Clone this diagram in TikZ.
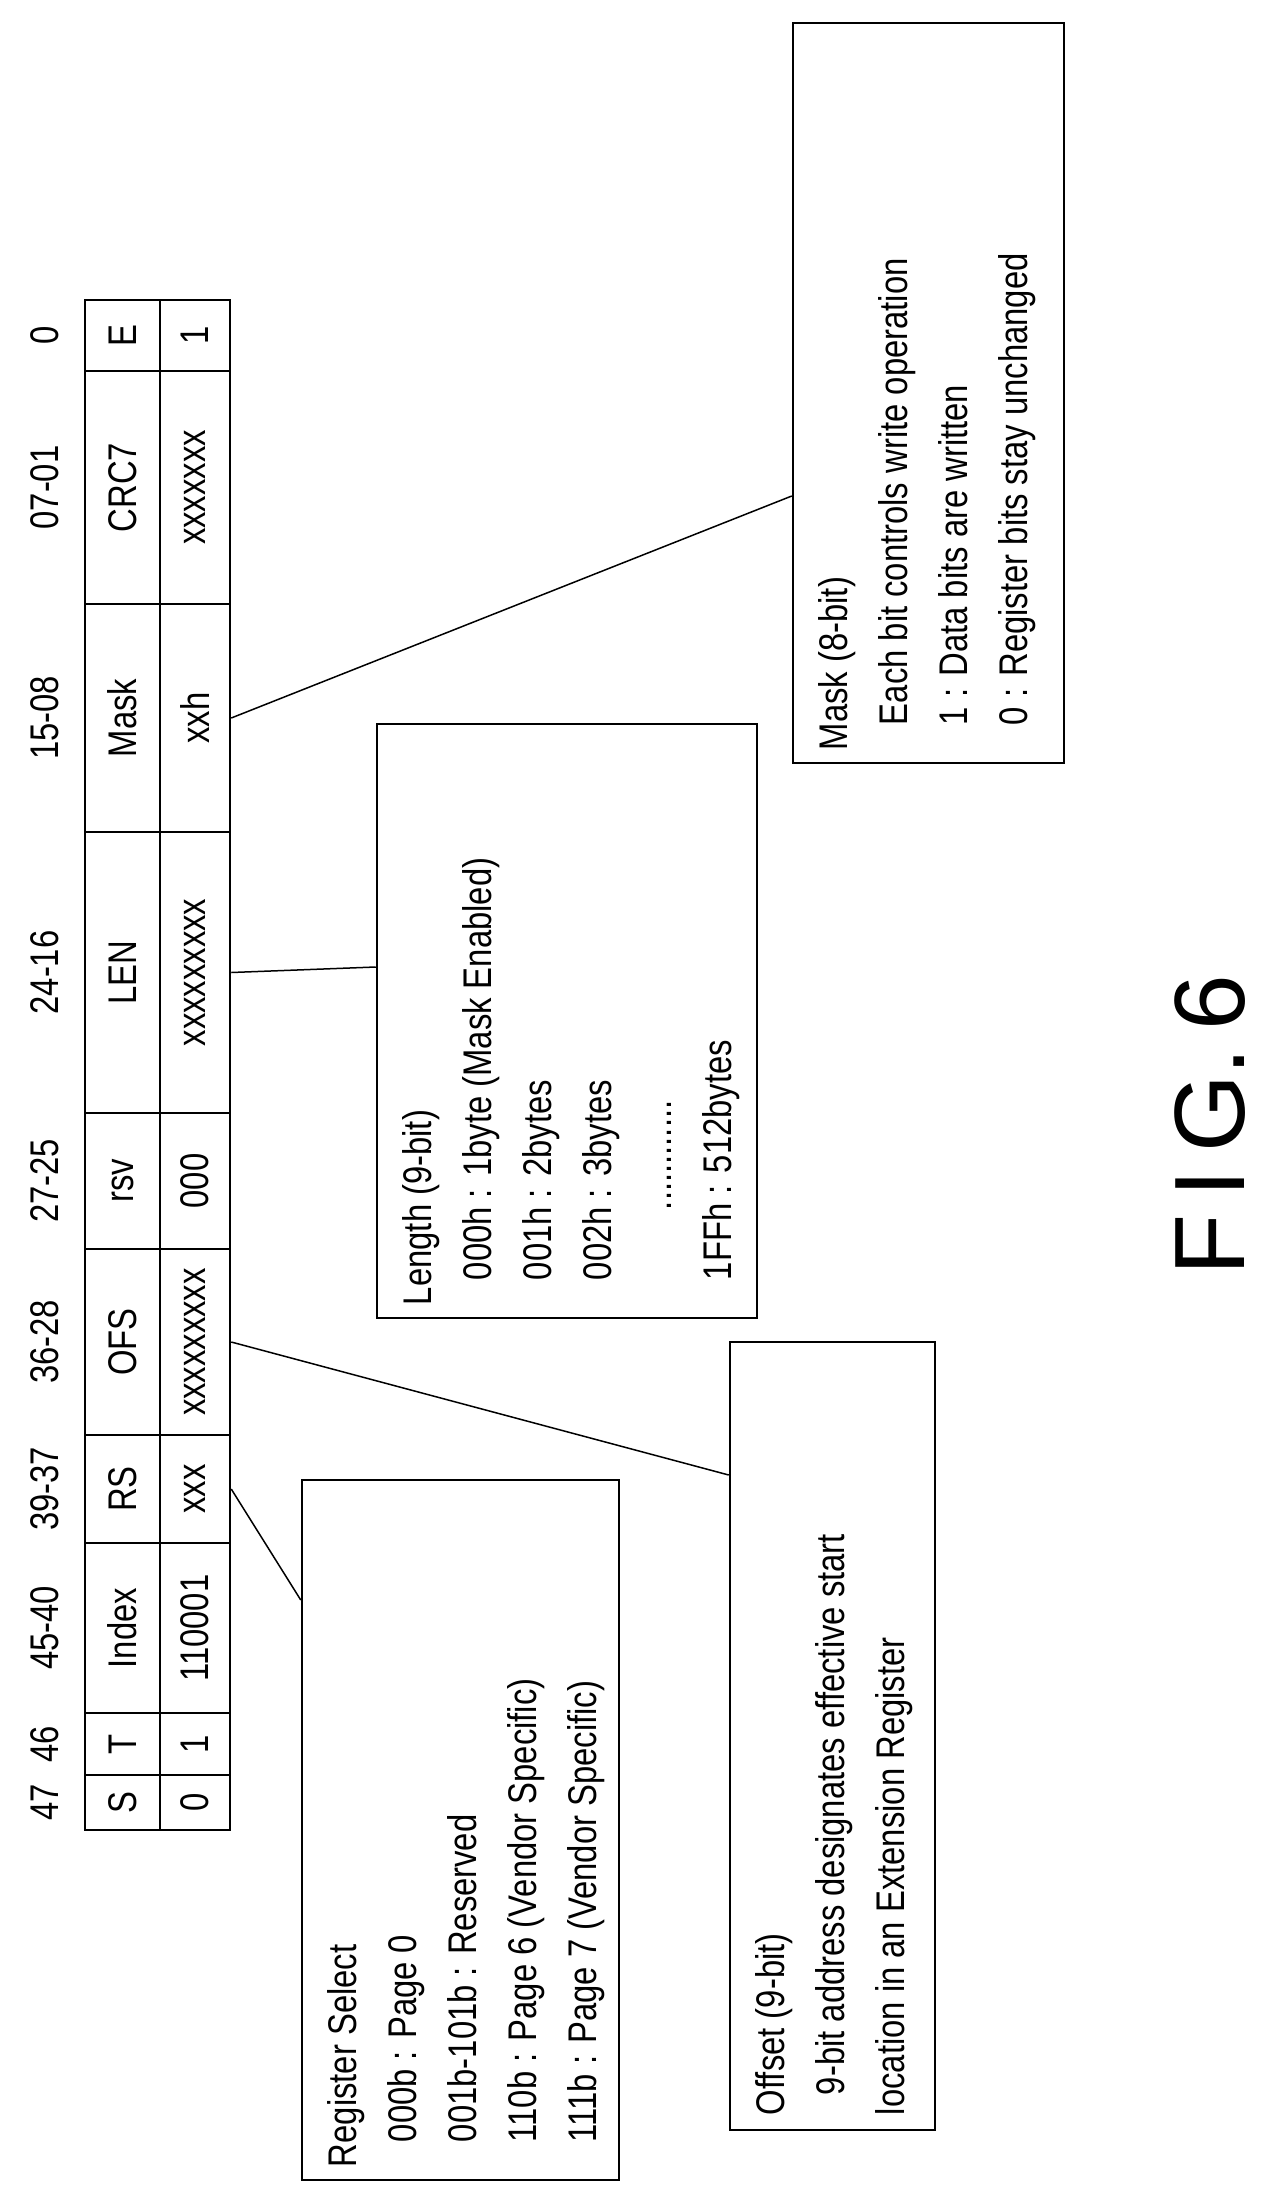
\documentclass[tikz,border=0pt]{standalone}
\usepackage{fontspec}
\setmainfont{Liberation Sans}
\newfontfamily\narrowfont[FakeStretch=0.82]{Liberation Sans}
\usetikzlibrary{positioning}

\tikzset{
  cell/.style={draw=black, line width=2.5pt, inner sep=0pt, font=\narrowfont\fontsize{40}{40}\selectfont},
  box/.style={draw=black, line width=2.5pt, inner sep=0pt},
  boxtext/.style={inner sep=0pt, anchor=south west, font=\narrowfont\fontsize{40}{60}\selectfont},
  bits/.style={inner sep=0pt, font=\narrowfont\fontsize{40}{40}\selectfont},
  lead/.style={line width=1.5pt}
}
\newcommand{\rot}[1]{\rotatebox{90}{#1}}

\begin{document}
\begin{tikzpicture}[x=1pt, y=-1pt]
    \useasboundingbox (0,0) rectangle (1279,2208);
    % Define the register fields: name / value / bits / top / bottom
    \foreach \nm/\hd/\vl/\bt/\ya/\yb in {
        e/E/1/0/300/371,
        crc/CRC7/xxxxxxx/07-01/371/604,
        mask/Mask/xxh/15-08/604/832,
        len/LEN/xxxxxxxxx/24-16/832/1113,
        rsv/rsv/000/27-25/1113/1249,
        ofs/OFS/xxxxxxxxx/36-28/1249/1435,
        rs/RS/xxx/39-37/1435/1543,
        idx/Index/110001/45-40/1543/1713,
        t/T/1/46/1713/1775,
        s/S/0/47/1775/1830}{
      \node[cell, minimum width=75pt, minimum height={\yb-\ya}] (\nm h) at (122.5,{(\ya+\yb)/2}) {\rot{\hd}};
      \node[cell, minimum width=70pt, minimum height={\yb-\ya}] (\nm v) at (195,{(\ya+\yb)/2}) {\rot{\vl}};
      \node[bits] (\nm b) at (45,{(\ya+\yb)/2}) {\rot{\bt}};
    }
    % Define the note boxes
    \node[box, minimum width=271pt, minimum height=740pt] (maskbox) at (928.5,393) {};
    \node[boxtext] (masktext) at ([shift={(14pt,14pt)}]maskbox.south west) {\rot{\begin{tabular}{@{}l@{}}
      Mask (8-bit)\\
      \hspace{25pt}Each bit controls write operation\\
      \hspace{25pt}1 : Data bits are written\\
      \hspace{25pt}0 : Register bits stay unchanged\end{tabular}}};
    \node[box, minimum width=380pt, minimum height=594pt] (lenbox) at (567,1021) {};
    \node[boxtext] (lentext) at ([shift={(14pt,14pt)}]lenbox.south west) {\rot{\begin{tabular}{@{}l@{}}
      Length (9-bit)\\
      \hspace{25pt}000h : 1byte (Mask Enabled)\\
      \hspace{25pt}001h : 2bytes\\
      \hspace{25pt}002h : 3bytes\\
      \hspace{95pt}\makebox[80pt][s]{.\hfil.\hfil.\hfil.\hfil.\hfil.\hfil.\hfil.\hfil.\hfil.\hfil.\hfil.}\\
      \hspace{25pt}1FFh : 512bytes\end{tabular}}};
    \node[box, minimum width=205pt, minimum height=788pt] (ofsbox) at (832.5,1736) {};
    \node[boxtext] (ofstext) at ([shift={(14pt,16pt)}]ofsbox.south west) {\rot{\begin{tabular}{@{}l@{}}
      Offset (9-bit)\\
      \hspace{20pt}9-bit address designates effective start\\
      location in an Extension Register\end{tabular}}};
    \node[box, minimum width=317pt, minimum height=700pt] (rsbox) at (460.5,1830) {};
    \node[boxtext] (rstext) at ([shift={(14pt,14pt)}]rsbox.south west) {\rot{\begin{tabular}{@{}l@{}}
      Register Select\\
      \hspace{25pt}000b : Page 0\\
      \hspace{25pt}001b-101b : Reserved\\
      \hspace{25pt}110b : Page 6 (Vendor Specific)\\
      \hspace{25pt}111b : Page 7 (Vendor Specific)\end{tabular}}};
    % Draw leaders
    \draw[lead] (maskv.east) -- ([yshift=-103pt]maskbox.west);
    \draw[lead] (lenv.east) -- ([yshift=54pt]lenbox.west);
    \draw[lead] (ofsv.east) -- ([yshift=261pt]ofsbox.west);
    \draw[lead] (rsv.east) -- ([yshift=230pt]rsbox.west);
    % Figure label
    \node[font=\fontsize{100}{100}\selectfont, inner sep=0pt] (fig) at (1210,1125) {\rot{F\,I\,G.\,6}};
\end{tikzpicture}
\end{document}
